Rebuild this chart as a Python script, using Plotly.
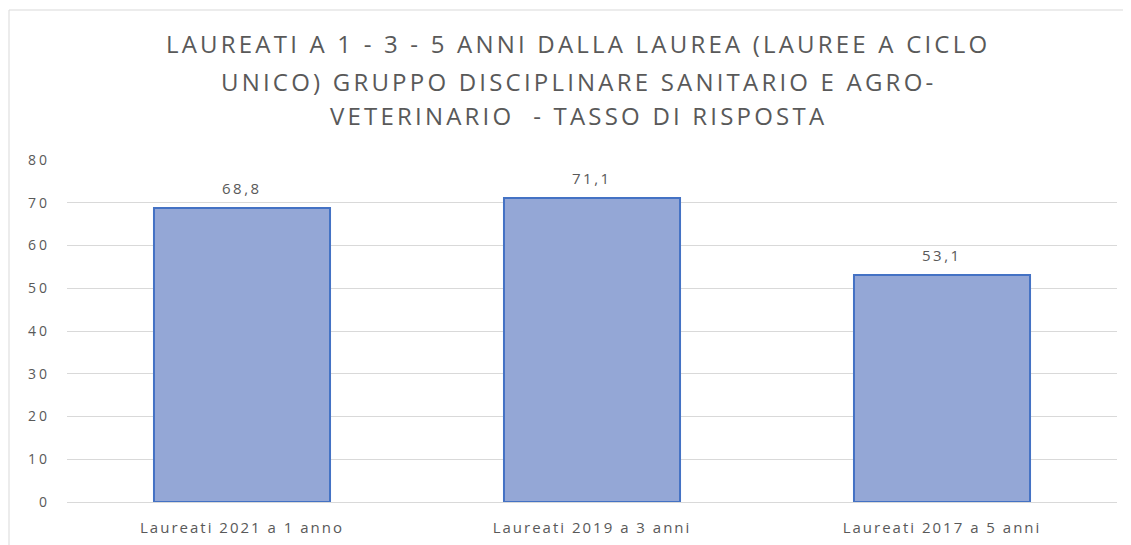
import plotly.graph_objects as go

categories = ["Laureati 2021 a 1 anno", "Laureati 2019 a 3 anni", "Laureati 2017 a 5 anni"]
values = [68.8, 71.1, 53.1]
y_ticks = [0, 10, 20, 30, 40, 50, 60, 70, 80]
title_lines = [
    "LAUREATI A 1 - 3 - 5 ANNI DALLA LAUREA (LAUREE A CICLO",
    "UNICO) GRUPPO DISCIPLINARE SANITARIO E AGRO-",
    "VETERINARIO  - TASSO DI RISPOSTA",
]

OFF = 8  # page body margin
W, H = 1131 - OFF, 545 - OFF
# plot area in window pixels: x 67..1117, y 160..502
L, T = 67 - OFF, 160 - OFF
R = W - (1117 - OFF)
B = H - (502 - OFF)
ph = H - T - B
pw = W - L - R

def py(pix):  # window pixel -> paper y
    return (502 - pix) / ph

def px(pix):  # window pixel -> paper x
    return (pix - 67) / pw

FONT = "Open Sans"
GREY = "#595959"

def spaced(s, sp):
    return f'<span style="letter-spacing:{sp}px">{s}</span>'

fig = go.Figure()
fig.add_trace(go.Bar(
    x=categories, y=values,
    marker=dict(color="#94a7d6", line=dict(color="#4472c4", width=2)),
    cliponaxis=False,
))

annotations = []
line_y = [44, 81, 115]
for t, yy in zip(title_lines, line_y):
    annotations.append(dict(
        text=spaced(t, 3.2), xref="paper", yref="paper", x=px(578), y=py(yy),
        xanchor="center", yanchor="middle", showarrow=False,
        font=dict(family=FONT, size=24, color=GREY),
    ))
for c, v in zip(categories, values):
    annotations.append(dict(
        text=spaced(f"{v:.1f}".replace(".", ","), 2.5), x=c, y=v, xref="x", yref="y",
        xanchor="center", yanchor="middle", yshift=20, showarrow=False,
        font=dict(family=FONT, size=15, color=GREY),
    ))

fig.update_layout(
    template="none",
    width=W, height=H,
    margin=dict(l=L, r=R, t=T, b=B, autoexpand=False),
    paper_bgcolor="white", plot_bgcolor="white",
    showlegend=False,
    bargap=0.497,
    annotations=annotations,
    shapes=[dict(type="rect", xref="paper", yref="paper",
                 x0=px(9), x1=px(1300), y0=py(700), y1=py(10),
                 line=dict(color="#d9d9d9", width=1), fillcolor="rgba(0,0,0,0)", layer="below")],
    xaxis=dict(automargin=False, showgrid=False, showline=False, ticks="", zeroline=False,
               tickvals=categories, ticktext=[spaced(c, 2.0) for c in categories],
               tickfont=dict(family=FONT, size=15, color=GREY), ticklabelstandoff=15),
    yaxis=dict(automargin=False, range=[0, 80], tickvals=y_ticks, ticktext=[spaced(str(t), 3) for t in y_ticks],
               showgrid=True, gridcolor="#d9d9d9", gridwidth=1,
               zeroline=True, zerolinecolor="#d9d9d9", zerolinewidth=1, showline=False, ticks="",
               tickfont=dict(family=FONT, size=14, color=GREY), ticklabelstandoff=16),
)

fig.write_html("out.html")
